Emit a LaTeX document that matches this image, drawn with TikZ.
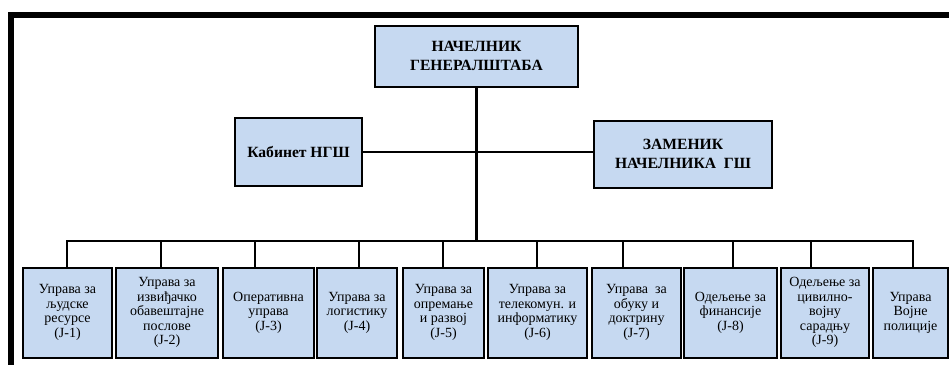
\documentclass[tikz,border=0pt]{standalone}
\usepackage{fontspec}
\setmainfont{Liberation Serif}
\newfontfamily\serifbox{Liberation Serif}
\definecolor{boxblue}{HTML}{C6D9F1}
\begin{document}
\begin{tikzpicture}[x=1pt,y=-1pt,
  box/.style={draw=black,fill=boxblue,line width=2pt,rectangle,inner sep=0pt,align=center},
  topbox/.style={box,font=\serifbox\fontsize{15.6}{19.5}\selectfont\bfseries},
  unit/.style={box,minimum height=90pt,font=\serifbox\fontsize{14}{14.6}\selectfont},
  link/.style={line width=2.8pt}]
\useasboundingbox (0,0) rectangle (949,365);
% frame
\fill[black] (8,12) rectangle (949,18);
\fill[black] (8,12) rectangle (14,365);
% top level
\node[topbox,minimum width=203pt,minimum height=61pt] (ngs) at (476.5,56) {НАЧЕЛНИК\\ГЕНЕРАЛШТАБА};
\node[topbox,minimum width=127pt,minimum height=68pt] (kab) at (298.5,152) {Кабинет НГШ};
\node[topbox,minimum width=178pt,minimum height=67pt] (zam) at (683,154) {ЗАМЕНИК\\НАЧЕЛНИКА~ ГШ};
% units
\node[unit,minimum width=89pt]  (u1)  at (67.5,312.5)  {Управа за\\људске\\ресурсе\\(J-1)};
\node[unit,minimum width=102pt] (u2)  at (167,312.5)   {Управа за\\извиђачко\\обавештајне\\послове\\(J-2)};
\node[unit,minimum width=91pt]  (u3)  at (268.5,312.5) {Оперативна\\управа\\(J-3)};
\node[unit,minimum width=80pt]  (u4)  at (357,312.5)   {Управа за\\логистику\\(J-4)};
\node[unit,minimum width=81pt]  (u5)  at (443.5,312.5) {Управа за\\опремање\\и развој\\(J-5)};
\node[unit,minimum width=99pt]  (u6)  at (537.5,312.5) {Управа за\\телекомун. и\\информатику\\(J-6)};
\node[unit,minimum width=89pt]  (u7)  at (636.5,312.5) {Управа~ за\\обуку и\\доктрину\\(J-7)};
\node[unit,minimum width=93pt]  (u8)  at (730.5,312.5) {Одељење за\\финансије\\(J-8)};
\node[unit,minimum width=88pt]  (u9)  at (825,312.5)   {Одељење за\\цивилно-\\војну\\сарадњу\\(J-9)};
\node[unit,minimum width=75pt]  (u10) at (910.5,312.5) {Управа\\Војне\\полиције};
% bus coordinates
\coordinate (c1) at (67,241);
\coordinate (c2) at (161,241);
\coordinate (c3) at (255,241);
\coordinate (c4) at (359,241);
\coordinate (c5) at (443,241);
\coordinate (c6) at (537,241);
\coordinate (c7) at (623,241);
\coordinate (c8) at (733,241);
\coordinate (c9) at (811,241);
\coordinate (c10) at (913,241);
\coordinate (trunk) at (476.5,241);
% connectors
\draw[link] (ngs.south) -- (trunk);
\draw[link] (kab.east) -- (kab.east -| zam.west);
\draw[link,line cap=rect] (c1) -- (c10);
\foreach \i in {1,...,10}{
  \draw[link] (c\i) -- (c\i |- u\i.north);
}
\end{tikzpicture}
\end{document}
